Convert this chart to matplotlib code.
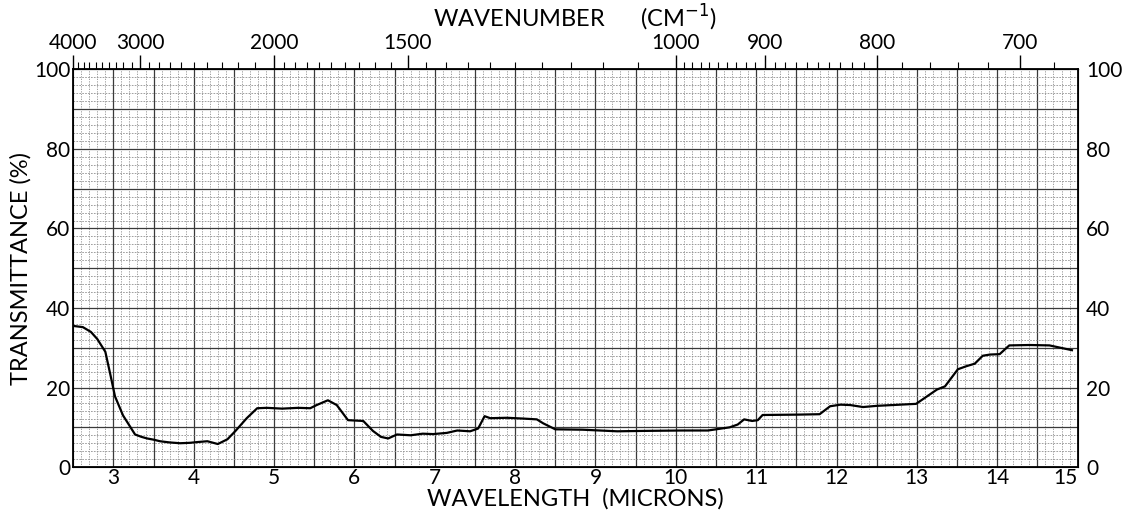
import matplotlib.pyplot as plt
import numpy as np
from matplotlib.ticker import FixedLocator

plt.rcParams['font.family'] = ['Lato', 'DejaVu Sans']

# wavelength (microns) and transmittance (%)
wavelength = [2.50, 2.62, 2.72, 2.80, 2.90, 2.96, 3.02, 3.12, 3.27, 3.35, 3.42,
              3.50, 3.58, 3.70, 3.83, 3.95, 4.05, 4.17, 4.30, 4.42, 4.52,
              4.66, 4.79, 4.91, 5.10, 5.30, 5.45, 5.53, 5.67, 5.78, 5.92,
              6.11, 6.23, 6.33, 6.42, 6.53, 6.70, 6.85, 6.98, 7.15, 7.28,
              7.44, 7.54, 7.62, 7.69, 7.90, 8.10, 8.27, 8.35, 8.50, 8.84,
              9.27, 9.60, 10.08, 10.40, 10.67, 10.77, 10.85, 10.95, 11.02,
              11.08, 11.54, 11.79, 11.92, 12.05, 12.17, 12.33, 12.50, 12.99,
              13.12, 13.25, 13.35, 13.51, 13.62, 13.72, 13.82, 13.91, 14.03,
              14.15, 14.40, 14.65, 14.93]
transmittance = [35.5, 35.2, 34.0, 32.2, 29.0, 23.5, 17.8, 13.0, 8.2, 7.6, 7.2,
                 6.9, 6.5, 6.2, 6.0, 6.1, 6.3, 6.5, 5.8, 7.0, 9.1,
                 12.3, 14.8, 14.9, 14.7, 14.9, 14.8, 15.6, 16.8, 15.6, 11.8,
                 11.6, 9.1, 7.6, 7.2, 8.2, 8.0, 8.4, 8.3, 8.6, 9.2,
                 9.0, 9.7, 12.8, 12.3, 12.4, 12.2, 12.0, 11.0, 9.5, 9.4,
                 9.0, 9.1, 9.2, 9.2, 10.0, 10.7, 12.0, 11.6, 11.8,
                 13.1, 13.2, 13.3, 15.3, 15.7, 15.6, 15.1, 15.4, 15.9,
                 17.7, 19.5, 20.3, 24.6, 25.4, 26.0, 28.0, 28.3, 28.4,
                 30.6, 30.7, 30.6, 29.4]

wn_major = [4000, 3000, 2000, 1500, 1000, 900, 800, 700]
wl_ticks = [3, 4, 5, 6, 7, 8, 9, 10, 11, 12, 13, 14, 15]
t_ticks = [0, 20, 40, 60, 80, 100]

fig = plt.figure(figsize=(11.26, 5.26), dpi=100)
ax = fig.add_axes([0.065, 0.112, 0.892, 0.756])

ax.set_xlim(2.5, 15)
ax.set_ylim(0, 100)

# chart paper grid
for v in np.arange(2.6, 15, 0.1):
    ax.axvline(v, color='#909090', lw=0.6, ls=(0, (1.5, 1.5)), zorder=1)
for v in np.arange(3.0, 15, 0.5):
    ax.axvline(v, color='#3a3a3a', lw=0.9, zorder=1)
for h in np.arange(2, 100, 2):
    ax.axhline(h, color='#909090', lw=0.6, ls=(0, (2, 1.5)), zorder=1)
for h in np.arange(10, 100, 10):
    ax.axhline(h, color='#3a3a3a', lw=0.9, zorder=1)

ax.plot(wavelength, transmittance, color='black', lw=1.6, zorder=3)

for s in ax.spines.values():
    s.set_linewidth(1.3)

ax.set_xticks(wl_ticks)
labels = ax.set_xticklabels([str(t) for t in wl_ticks], fontsize=15)
labels[-1].set_ha('right')
ax.set_yticks(t_ticks)
ax.set_yticklabels([str(t) for t in t_ticks], fontsize=15)
ax.tick_params(axis='x', length=0, pad=1)
ax.tick_params(axis='y', length=0, pad=2)
ax.set_xlabel('WAVELENGTH  (MICRONS)', fontsize=17, labelpad=0)
ax.set_ylabel('TRANSMITTANCE (%)', fontsize=17, labelpad=2)

# right side transmittance labels
ax_r = ax.twinx()
ax_r.set_ylim(0, 100)
ax_r.set_yticks(t_ticks)
ax_r.set_yticklabels([str(t) for t in t_ticks], fontsize=15)
ax_r.tick_params(axis='y', length=0, pad=6)

# wavenumber scale on top
top = ax.secondary_xaxis('top', functions=(lambda x: 1e4 / x, lambda x: 1e4 / x))
top.set_xticks(wn_major)
top.set_xticklabels([str(w) for w in wn_major], fontsize=15)
minor = list(range(3900, 2000, -100)) + list(range(1950, 1000, -50)) + \
    list(range(990, 800, -10)) + list(range(780, 660, -20))
top.xaxis.set_minor_locator(FixedLocator(minor))
top.tick_params(axis='x', which='major', length=10, width=1.0, pad=2)
top.tick_params(axis='x', which='minor', length=5, width=0.8)
top.set_xlabel('WAVENUMBER      (CM$^{-1}$)', fontsize=17, labelpad=4)

fig.savefig('out.png', dpi=100)
